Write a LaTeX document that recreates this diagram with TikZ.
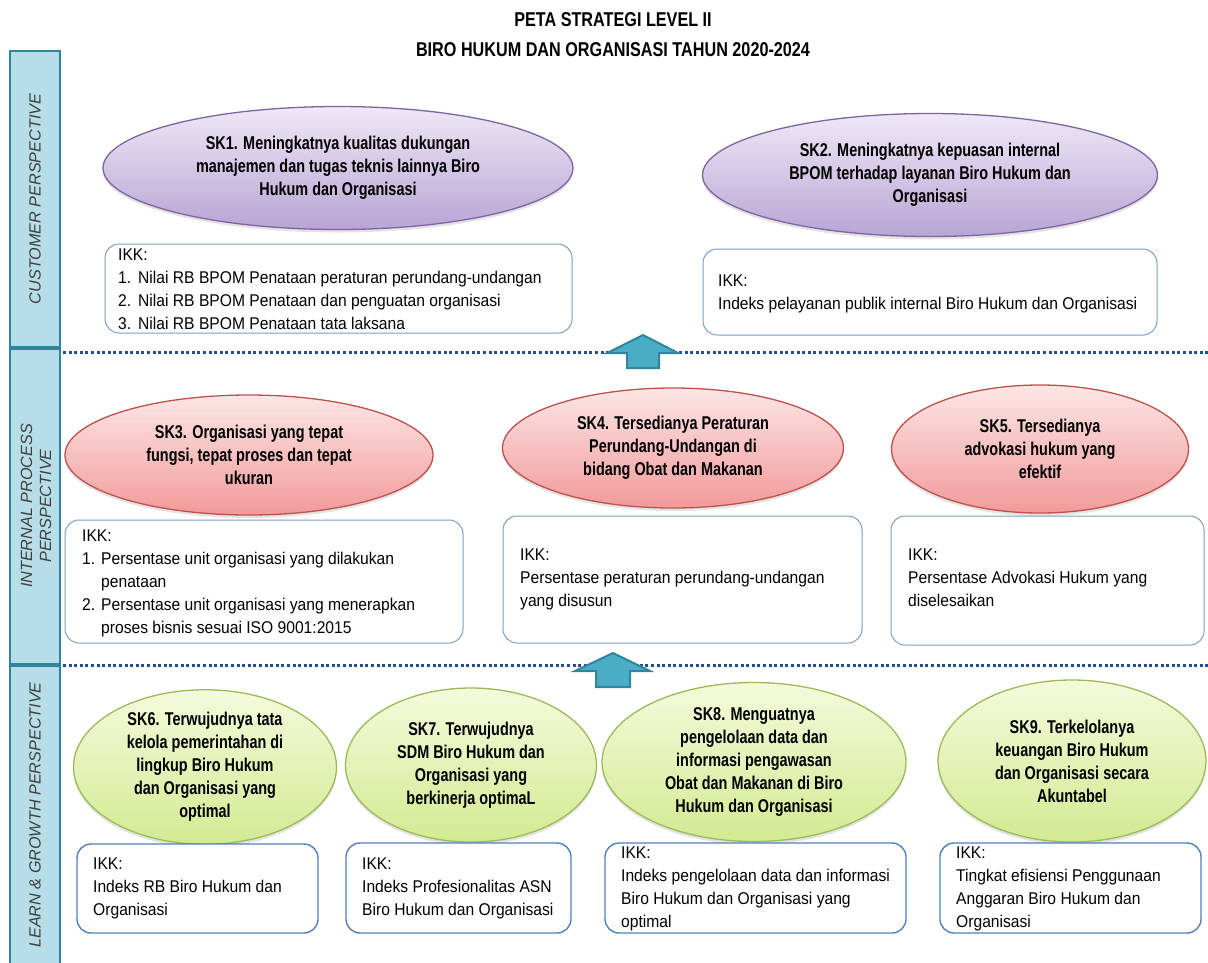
\documentclass[tikz,border=0pt]{standalone}
\usepackage{fontspec}
\setmainfont{Liberation Sans}
\newfontfamily\condfont{Liberation Sans}[FakeStretch=0.78]
\newfontfamily\titlefont{Liberation Sans}[FakeStretch=0.81]
\newfontfamily\narrowfont{Liberation Sans}[FakeStretch=0.92]
\usetikzlibrary{shapes.geometric,shadows,calc}
\definecolor{sidefill}{HTML}{B7DEE8}
\definecolor{sidedraw}{HTML}{31849B}
\definecolor{dotcol}{HTML}{254E8F}
\definecolor{arrfill}{HTML}{4BACC6}
\definecolor{arrdraw}{HTML}{31859C}
\definecolor{purtop}{HTML}{EEE8F6}
\definecolor{purbot}{HTML}{B8A5D4}
\definecolor{purdraw}{HTML}{8064A2}
\definecolor{redtop}{HTML}{FCE6E6}
\definecolor{redbot}{HTML}{F29A9A}
\definecolor{reddraw}{HTML}{C0504D}
\definecolor{grntop}{HTML}{F4FADC}
\definecolor{grnbot}{HTML}{D3EA92}
\definecolor{grndraw}{HTML}{9BBB59}
\definecolor{boxdraw}{HTML}{7F9DC6}
\definecolor{boxdrawb}{HTML}{4F81BD}
\definecolor{sidetext}{HTML}{404040}
\begin{document}
\begin{tikzpicture}[x=1pt,y=-1pt,
  sk/.style={ellipse, inner sep=0pt, align=center,
    font=\condfont\bfseries\fontsize{18.5}{23}\selectfont, line width=1.3pt,
    drop shadow={shadow xshift=0pt, shadow yshift=-3pt, opacity=0.22}},
  purp/.style={sk, top color=purtop, bottom color=purbot, draw=purdraw},
  redd/.style={sk, top color=redtop, bottom color=redbot, draw=reddraw},
  grn/.style={sk, top color=grntop, bottom color=grnbot, draw=grndraw},
  ikk/.style={draw=boxdraw, rounded corners=14pt, fill=white, line width=1pt, inner sep=0pt},
  ikkb/.style={ikk, draw=boxdrawb, line width=1.4pt},
  ikktext/.style={anchor=north west, align=left, inner sep=0pt,
    font=\narrowfont\fontsize{17}{23}\selectfont},
  side/.style={draw=sidedraw, fill=sidefill, line width=2.5pt},
  sidelab/.style={rotate=90, align=center, text=sidetext,
    font=\itshape\fontsize{16.2}{19}\selectfont},
  dotline/.style={dotcol, line width=3pt, dash pattern=on 3pt off 2.6pt},
  blockarrow/.style={fill=arrfill, draw=arrdraw, line width=2pt, line join=miter},
]
\useasboundingbox (0,0) rectangle (1208,962);
\fill[white] (0,0) rectangle (1208,962);

% title
\node[font=\titlefont\bfseries\fontsize{20}{30}\selectfont, align=center] (title) at (613,35)
  {PETA STRATEGI LEVEL II\\BIRO HUKUM DAN ORGANISASI TAHUN 2020-2024};

% sidebar
\draw[side] (10,51) rectangle (60,347);
\draw[side] (10,349) rectangle (60,664);
\draw[side] (10,666) rectangle (60,975);
\node[sidelab] (lab1) at (35,199) {CUSTOMER PERSPECTIVE};
\node[sidelab] (lab2) at (36,506) {INTERNAL PROCESS\\PERSPECTIVE};
\node[sidelab] (lab3) at (35,815) {LEARN \& GROWTH PERSPECTIVE};

% dotted separators
\coordinate (d1a) at (63,352); \coordinate (d1b) at (1208,352);
\coordinate (d2a) at (63,665); \coordinate (d2b) at (1208,665);
\draw[dotline] (d1a) -- (d1b);
\draw[dotline] (d2a) -- (d2b);

% customer perspective
\node[purp, minimum width=470, minimum height=123] (sk1) at (338,168)
  {SK1. Meningkatnya kualitas dukungan\\manajemen dan tugas teknis lainnya Biro\\Hukum dan Organisasi};
\node[purp, minimum width=455, minimum height=123] (sk2) at (930,175)
  {SK2. Meningkatnya kepuasan internal\\BPOM terhadap layanan Biro Hukum dan\\Organisasi};

\node[ikk, minimum width=467, minimum height=89] (k1) at (338.5,288.5) {};
\node[ikktext] (t1) at (118,249)
  {IKK:\\\makebox[20pt][l]{1.}Nilai RB BPOM Penataan peraturan perundang-undangan\\
   \makebox[20pt][l]{2.}Nilai RB BPOM Penataan dan penguatan organisasi\\
   \makebox[20pt][l]{3.}Nilai RB BPOM Penataan tata laksana};
\node[ikk, minimum width=454, minimum height=86] (k2) at (930,292) {};
\node[ikktext] (t2) at (718,275)
  {IKK:\\Indeks pelayanan publik internal Biro Hukum dan Organisasi};

% internal process perspective
\node[redd, minimum width=368, minimum height=120] (sk3) at (249,455)
  {SK3. Organisasi yang tepat\\fungsi, tepat proses dan tepat\\ukuran};
\node[redd, minimum width=341, minimum height=120] (sk4) at (673,448)
  {SK4. Tersedianya Peraturan\\Perundang-Undangan di\\bidang Obat dan Makanan};
\node[redd, minimum width=297, minimum height=128] (sk5) at (1040,449)
  {SK5. Tersedianya\\advokasi hukum yang\\efektif};

\node[ikk, minimum width=398, minimum height=123] (k3) at (264,581.5) {};
\node[ikktext] (t3) at (82,530)
  {IKK:\\\makebox[19pt][l]{1.}Persentase unit organisasi yang dilakukan\\
   \hspace*{19pt}penataan\\
   \makebox[19pt][l]{2.}Persentase unit organisasi yang menerapkan\\
   \hspace*{19pt}proses bisnis sesuai ISO 9001:2015};
\node[ikk, minimum width=359, minimum height=127] (k4) at (682.5,579.5) {};
\node[ikktext] (t4) at (520,549)
  {IKK:\\Persentase peraturan perundang-undangan\\yang disusun};
\node[ikk, minimum width=313, minimum height=129] (k5) at (1047.5,580.5) {};
\node[ikktext] (t5) at (908,549)
  {IKK:\\Persentase Advokasi Hukum yang\\diselesaikan};

% learn & growth perspective
\node[grn, minimum width=263, minimum height=153] (sk6) at (205,767)
  {SK6. Terwujudnya tata\\kelola pemerintahan di\\lingkup Biro Hukum\\dan Organisasi yang\\optimal};
\node[grn, minimum width=251, minimum height=154] (sk7) at (471,765)
  {SK7. Terwujudnya\\SDM Biro Hukum dan\\Organisasi yang\\berkinerja optimaL};
\node[grn, minimum width=304, minimum height=159] (sk8) at (754,762)
  {SK8. Menguatnya\\pengelolaan data dan\\informasi pengawasan\\Obat dan Makanan di Biro\\Hukum dan Organisasi};
\node[grn, minimum width=268, minimum height=162] (sk9) at (1072,761)
  {SK9. Terkelolanya\\keuangan Biro Hukum\\dan Organisasi secara\\Akuntabel};

\node[ikkb, minimum width=241, minimum height=89] (k6) at (197.5,888.5) {};
\node[ikktext] (t6) at (93,858)
  {IKK:\\Indeks RB Biro Hukum dan\\Organisasi};
\node[ikkb, minimum width=225, minimum height=90] (k7) at (458.5,888) {};
\node[ikktext] (t7) at (362,858)
  {IKK:\\Indeks Profesionalitas ASN\\Biro Hukum dan Organisasi};
\node[ikkb, minimum width=301, minimum height=90] (k8) at (755.5,888) {};
\node[ikktext] (t8) at (621,847)
  {IKK:\\Indeks pengelolaan data dan informasi\\Biro Hukum dan Organisasi yang\\optimal};
\node[ikkb, minimum width=261, minimum height=90] (k9) at (1070.5,888) {};
\node[ikktext] (t9) at (956,847)
  {IKK:\\Tingkat efisiensi Penggunaan\\Anggaran Biro Hukum dan\\Organisasi};

% block arrows
\draw[blockarrow] (643,335) -- (678,353) -- (659,353) -- (659,368) -- (627,368) -- (627,353) -- (607,353) -- cycle;
\draw[blockarrow] (613,653) -- (650,671) -- (630,671) -- (630,687) -- (596,687) -- (596,671) -- (575,671) -- cycle;
\end{tikzpicture}
\end{document}
